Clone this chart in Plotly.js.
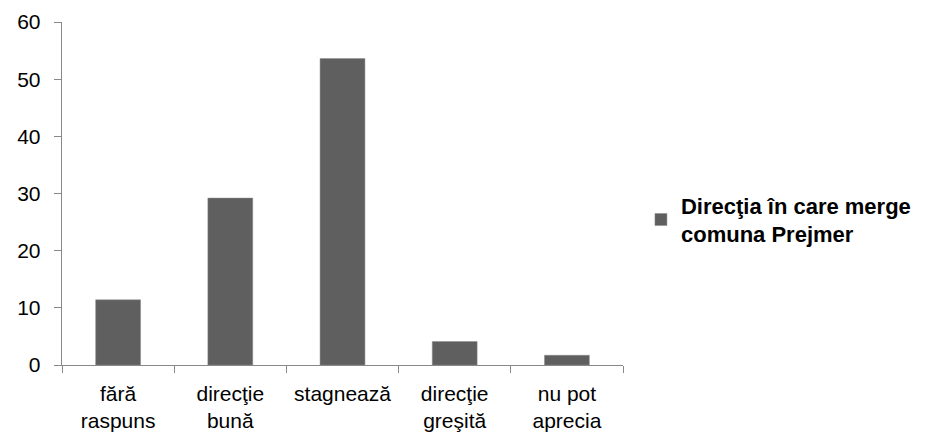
<!DOCTYPE html>
<html><head><meta charset="utf-8">
<script src="https://cdn.plot.ly/plotly-3.0.1.min.js"></script>
<style>body{margin:0;background:#fff}#c{width:933px;height:433px}</style>
</head><body><div id="c"></div>
<script>
const categories = ["fără<br>raspuns", "direcţie<br>bună", "stagnează", "direcţie<br>greşită", "nu pot<br>aprecia"];
const values = [11.4, 29.2, 53.6, 4.1, 1.7];
const seriesName = "Direcţia în care merge<br>comuna Prejmer";
const yTicks = [0, 10, 20, 30, 40, 50, 60];

const font = "Liberation Sans, Arial, sans-serif";
Plotly.newPlot("c", [{
  type: "bar", x: categories, y: values, name: seriesName,
  marker: {color: "#5f5f5f", line: {color: "#8a8a8a", width: 0.5}},
  width: 0.4, showlegend: true
}], {
  width: 933, height: 433,
  margin: {l: 62, r: 310, t: 22, b: 68},
  paper_bgcolor: "#fff", plot_bgcolor: "#fff",
  font: {family: font, size: 21, color: "#000"},
  xaxis: {type: "category", range: [-0.5, 4.5], showline: true, linecolor: "#888", linewidth: 1.3,
    ticks: "outside", ticklen: 7, tickcolor: "#888", tickson: "boundaries", showgrid: false,
    ticklabelstandoff: 9, tickfont: {size: 21}},
  yaxis: {range: [0, 60], tickvals: yTicks, showline: true, linecolor: "#888", linewidth: 1.3,
    ticks: "outside", ticklen: 7, tickcolor: "#888", showgrid: false, zeroline: false,
    ticklabelstandoff: 9, tickfont: {size: 21}},
  showlegend: true,
  legend: {x: 1.032, xanchor: "left", y: 0.423, yanchor: "middle",
    font: {family: font, size: 22, color: "#000", weight: "bold"}, itemwidth: 30}
}, {displayModeBar: false, staticPlot: true});
</script></body></html>
